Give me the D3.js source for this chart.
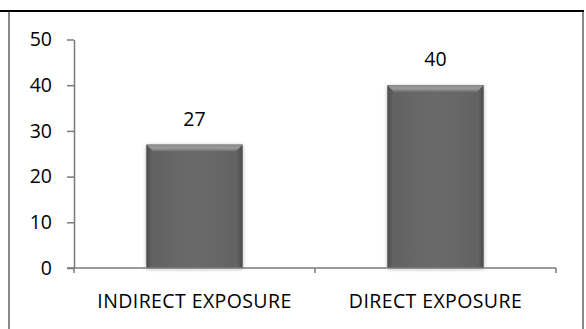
<!DOCTYPE html>
<html><head><meta charset="utf-8">
<script src="https://cdn.jsdelivr.net/npm/d3@7"></script>
<style>html,body{margin:0;padding:0;background:#fff;}svg{display:block;}</style>
</head><body>
<script>
const categories = ["INDIRECT EXPOSURE", "DIRECT EXPOSURE"];
const values = [27, 40];
const yTicks = [0, 10, 20, 30, 40, 50];

const W = 586, H = 329;
const svg = d3.select("body").append("svg").attr("width", W).attr("height", H);
const font = "'Open Sans', Lato, sans-serif";
const fs = 19.5;

// frame
svg.append("line").attr("x1", 0).attr("x2", 584).attr("y1", 11).attr("y2", 11).attr("stroke", "#000").attr("stroke-width", 2);
svg.append("line").attr("x1", 9).attr("x2", 9).attr("y1", 12).attr("y2", H).attr("stroke", "#888").attr("stroke-width", 2);
svg.append("line").attr("x1", 583).attr("x2", 583).attr("y1", 12).attr("y2", H).attr("stroke", "#888").attr("stroke-width", 2);

const pLeft = 74, pRight = 556, pTop = 39.5, pBottom = 268;
const x = d3.scaleBand().domain(categories).range([pLeft, pRight]).paddingInner(0.6).paddingOuter(0.3);
const y = d3.scaleLinear().domain([0, 50]).range([pBottom, pTop]);

const defs = svg.append("defs");
const sh = defs.append("filter").attr("id", "sh").attr("x", "-20%").attr("y", "-20%").attr("width", "140%").attr("height", "140%");
sh.append("feGaussianBlur").attr("in", "SourceAlpha").attr("stdDeviation", 2.2).attr("result", "b");
sh.append("feOffset").attr("in", "b").attr("dx", 0).attr("dy", 1).attr("result", "o");
sh.append("feComponentTransfer").attr("in", "o").attr("result", "o2")
  .append("feFuncA").attr("type", "linear").attr("slope", 0.3);
const m = sh.append("feMerge");
m.append("feMergeNode").attr("in", "o2");
m.append("feMergeNode").attr("in", "SourceGraphic");

const hg = defs.append("linearGradient").attr("id", "hg").attr("x1", 0).attr("x2", 1).attr("y1", 0).attr("y2", 0);
hg.append("stop").attr("offset", "0").attr("stop-color", "#4a4a4a");
hg.append("stop").attr("offset", "0.06").attr("stop-color", "#636363");
hg.append("stop").attr("offset", "0.5").attr("stop-color", "#6a6a6a");
hg.append("stop").attr("offset", "0.94").attr("stop-color", "#636363");
hg.append("stop").attr("offset", "1").attr("stop-color", "#4a4a4a");
const tg = defs.append("linearGradient").attr("id", "tg").attr("x1", 0).attr("x2", 0).attr("y1", 0).attr("y2", 1);
tg.append("stop").attr("offset", "0").attr("stop-color", "#8a8a8a");
tg.append("stop").attr("offset", "0.5").attr("stop-color", "#9a9a9a");
tg.append("stop").attr("offset", "1").attr("stop-color", "#6a6a6a");

// bars
const g = svg.append("g").selectAll("g").data(categories).join("g");
g.append("rect")
  .attr("x", d => x(d)).attr("width", x.bandwidth())
  .attr("y", (d, i) => y(values[i])).attr("height", (d, i) => y(0) - y(values[i]))
  .attr("fill", "url(#hg)").attr("filter", "url(#sh)");
g.append("path")
  .attr("d", (d, i) => {
    const x0 = x(d), x1 = x(d) + x.bandwidth(), y0 = y(values[i]), b = 7;
    return `M${x0},${y0}L${x1},${y0}L${x1 - b},${y0 + b}L${x0 + b},${y0 + b}Z`;
  })
  .attr("fill", "url(#tg)");
g.append("text")
  .attr("x", d => x(d) + x.bandwidth() / 2)
  .attr("y", (d, i) => y(values[i]) - 19)
  .attr("text-anchor", "middle").attr("font-family", font).attr("font-size", fs).attr("fill", "#000")
  .text((d, i) => values[i]);

// y axis
const ya = svg.append("g").attr("transform", `translate(${pLeft},0)`)
  .call(d3.axisLeft(y).tickValues(yTicks).tickSize(7).tickPadding(15).tickSizeOuter(0));
ya.selectAll("text").attr("font-family", font).attr("font-size", fs).attr("fill", "#000");
ya.selectAll("line,path").attr("stroke", "#7a7a7a").attr("stroke-width", 1.5);

// x axis
const xa = svg.append("g").attr("transform", `translate(0,${pBottom})`);
xa.append("line").attr("x1", pLeft - 7).attr("x2", pRight).attr("y1", 0).attr("y2", 0).attr("stroke", "#7a7a7a").attr("stroke-width", 1.5);
const bounds = [pLeft, ...categories.map(c => x(c) + x.bandwidth() / 2 + x.step() / 2)];
xa.selectAll("line.t").data(bounds).join("line").attr("class", "t")
  .attr("x1", d => d).attr("x2", d => d).attr("y1", 0).attr("y2", 5).attr("stroke", "#7a7a7a").attr("stroke-width", 1.5);
xa.selectAll("text").data(categories).join("text")
  .attr("x", d => x(d) + x.bandwidth() / 2).attr("y", 40)
  .attr("text-anchor", "middle").attr("font-family", font).attr("font-size", fs)
  .attr("letter-spacing", 0.4).attr("fill", "#000")
  .text(d => d);
</script>
</body></html>
